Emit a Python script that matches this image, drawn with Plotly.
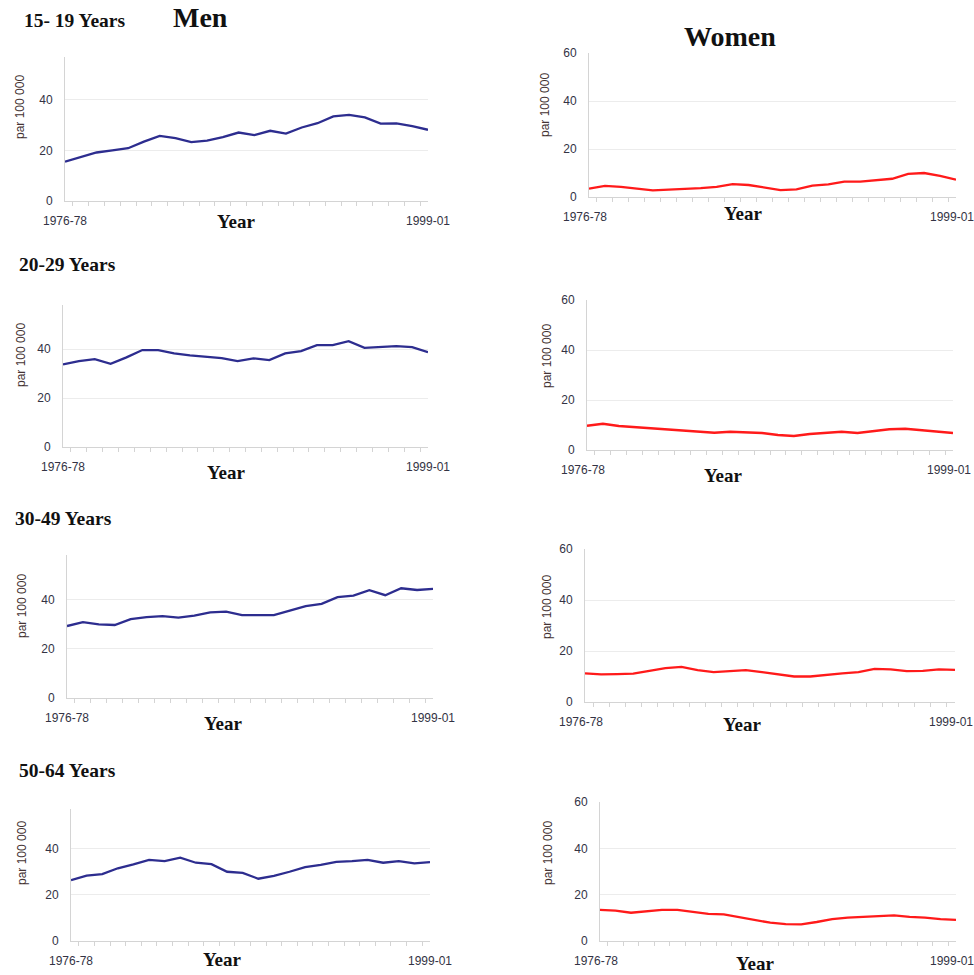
import plotly.graph_objects as go

periods = ["1976-78", "1977-79", "1978-80", "1979-81", "1980-82", "1981-83",
           "1982-84", "1983-85", "1984-86", "1985-87", "1986-88", "1987-89",
           "1988-90", "1989-91", "1990-92", "1991-93", "1992-94", "1993-95",
           "1994-96", "1995-97", "1996-98", "1997-99", "1998-00", "1999-01"]

age_groups = ["15- 19 Years", "20-29 Years", "30-49 Years", "50-64 Years"]

men_15_19 = [15.6, 17.3, 19.2, 20.0, 20.9, 23.5, 25.8, 24.9, 23.3, 23.9, 25.3, 27.1,
             26.1, 27.8, 26.7, 29.1, 30.8, 33.5, 34.1, 33.1, 30.6, 30.7, 29.6, 28.2]
women_15_19 = [3.5, 4.6, 4.2, 3.5, 2.8, 3.1, 3.3, 3.7, 4.2, 5.4, 5.0, 3.9,
               2.9, 3.2, 4.7, 5.3, 6.4, 6.4, 7.1, 7.6, 9.6, 10.0, 8.8, 7.2]
men_20_29 = [33.7, 35.1, 35.9, 34.0, 36.6, 39.6, 39.6, 38.2, 37.4, 36.8, 36.3, 35.1,
             36.2, 35.5, 38.2, 39.2, 41.6, 41.6, 43.2, 40.5, 40.7, 41.2, 40.8, 38.7]
women_20_29 = [9.7, 10.5, 9.6, 9.1, 8.7, 8.3, 7.7, 7.1, 6.9, 7.3, 7.2, 6.8,
               6.0, 5.6, 6.4, 6.9, 7.3, 6.8, 7.6, 8.3, 8.5, 8.0, 7.6, 6.8]
men_30_49 = [29.2, 30.8, 29.9, 29.6, 32.0, 32.8, 33.2, 32.6, 33.4, 34.7, 35.0, 33.6,
             33.6, 33.6, 35.4, 37.3, 38.2, 40.9, 41.5, 43.7, 41.7, 44.5, 43.8, 44.3]
women_30_49 = [11.2, 10.8, 10.9, 11.1, 12.2, 13.3, 13.8, 12.5, 11.7, 12.1, 12.5, 11.7,
               10.8, 10.0, 10.0, 10.7, 11.2, 11.7, 13.0, 12.8, 12.1, 12.2, 12.8, 12.6]
men_50_64 = [26.3, 28.2, 28.9, 31.4, 33.1, 35.0, 34.5, 36.0, 33.8, 33.2, 29.9, 29.4,
             26.9, 28.1, 29.9, 31.9, 32.9, 34.2, 34.5, 35.0, 33.8, 34.5, 33.5, 34.1]
women_50_64 = [13.4, 13.1, 12.2, 12.7, 13.4, 13.4, 12.7, 11.7, 11.5, 10.2, 9.1, 7.9,
               7.3, 7.2, 8.2, 9.4, 10.1, 10.5, 10.6, 11.1, 10.4, 10.1, 9.4, 9.1]

men_series = [men_15_19, men_20_29, men_30_49, men_50_64]
women_series = [women_15_19, women_20_29, women_30_49, women_50_64]

# full-window figure; the page's default body margin is removed after plotting
W, H = 974, 975
MEN_COLOR = "#2d2d8f"
WOMEN_COLOR = "#ff1a1a"
SANS = "Liberation Sans, Arial, sans-serif"
SERIF = "Liberation Serif, Times New Roman, serif"

# panel geometry in window pixels: (x_left, x_right, y_bottom, y_top, ymax)
men_geo = [(65, 428, 201, 57, 57), (63, 428, 447, 305, 58),
           (67, 433, 698, 555, 58), (71, 430, 941, 809, 57)]
women_geo = [(589, 956, 197, 53, 60), (587, 953, 450, 300, 60),
             (585, 955, 702, 549, 60), (600, 956, 941, 802, 60)]
men_ytitle = [(20, 107), (21, 355), (22, 606), (22, 853)]
women_ytitle = [(545, 105), (547, 356), (547, 607), (548, 853)]
men_year = [(236, 222), (226, 473), (223, 723), (222, 959)]
women_year = [(743, 213), (723, 475), (742, 724), (755, 963)]
group_title = [(22, 20), (17, 265), (13, 518), (17, 770)]

fig = go.Figure()
annotations = []
layout = {}

ticktext = [periods[0]] + [""] * (len(periods) - 2) + [periods[-1]]


def px_x(v):
    return v / W


def px_y(v):
    return 1 - v / H


panels = []
for i in range(4):
    panels.append((men_series[i], men_geo[i], MEN_COLOR, men_ytitle[i], men_year[i], [0, 20, 40], 0))
    panels.append((women_series[i], women_geo[i], WOMEN_COLOR, women_ytitle[i], women_year[i], [0, 20, 40, 60], -4))

for k, (vals, geo, color, ytp, yrp, yticks, shift) in enumerate(panels, start=1):
    xl, xr, yb, yt, ymax = geo
    sfx = "" if k == 1 else str(k)
    fig.add_trace(go.Scatter(x=periods, y=vals, mode="lines",
                             line=dict(color=color, width=2.3),
                             xaxis="x" + sfx, yaxis="y" + sfx, showlegend=False))
    layout["xaxis" + sfx] = dict(
        domain=[px_x(xl), px_x(xr)], anchor="y" + sfx, type="category",
        categoryorder="array", categoryarray=periods, automargin=False,
        tickson="boundaries", ticks="outside", ticklen=4, tickcolor="#d4d4d4",
        tickvals=periods, ticktext=ticktext, tickangle=0, ticklabelstandoff=9,
        ticklabelshift=shift,
        tickfont=dict(family=SANS, size=12, color="#333344"),
        showline=True, linecolor="#d4d4d4", linewidth=1, showgrid=False,
        zeroline=False, fixedrange=True)
    layout["yaxis" + sfx] = dict(
        domain=[px_y(yb), px_y(yt)], anchor="x" + sfx, range=[0, ymax], automargin=False,
        tickvals=yticks, ticks="", ticklabelstandoff=9,
        tickfont=dict(family=SANS, size=12, color="#333344"),
        showline=True, linecolor="#d4d4d4", linewidth=1,
        showgrid=True, gridcolor="#ececec", gridwidth=1, zeroline=False, fixedrange=True)
    annotations.append(dict(text="par 100 000", x=px_x(ytp[0]), y=px_y(ytp[1]),
                            xref="paper", yref="paper", showarrow=False, textangle=-90,
                            xanchor="center", yanchor="middle",
                            font=dict(family=SANS, size=12, color="#443333")))
    annotations.append(dict(text="<b>Year</b>", x=px_x(yrp[0]), y=px_y(yrp[1]),
                            xref="paper", yref="paper", showarrow=False,
                            xanchor="center", yanchor="middle",
                            font=dict(family=SERIF, size=19, color="#111111")))

for i, (tx, ty) in enumerate(group_title):
    annotations.append(dict(text="<b>" + age_groups[i] + "</b>", x=px_x(tx), y=px_y(ty),
                            xref="paper", yref="paper", showarrow=False,
                            xanchor="left", yanchor="middle",
                            font=dict(family=SERIF, size=19.5, color="#111111")))

annotations.append(dict(text="<b>Men</b>", x=px_x(200), y=px_y(17), xref="paper", yref="paper",
                        showarrow=False, xanchor="center", yanchor="middle",
                        font=dict(family=SERIF, size=28, color="#111111")))
annotations.append(dict(text="<b>Women</b>", x=px_x(730), y=px_y(37), xref="paper", yref="paper",
                        showarrow=False, xanchor="center", yanchor="middle",
                        font=dict(family=SERIF, size=28, color="#111111")))

fig.update_layout(template="none", width=W, height=H, margin=dict(l=0, r=0, t=0, b=0, pad=0),
                  paper_bgcolor="white", plot_bgcolor="white", showlegend=False,
                  annotations=annotations, **layout)

fig.write_html("out.html", config={"displayModeBar": False, "staticPlot": True},
               post_script="document.body.style.margin='0';"
                           "document.body.style.overflow='hidden';")
